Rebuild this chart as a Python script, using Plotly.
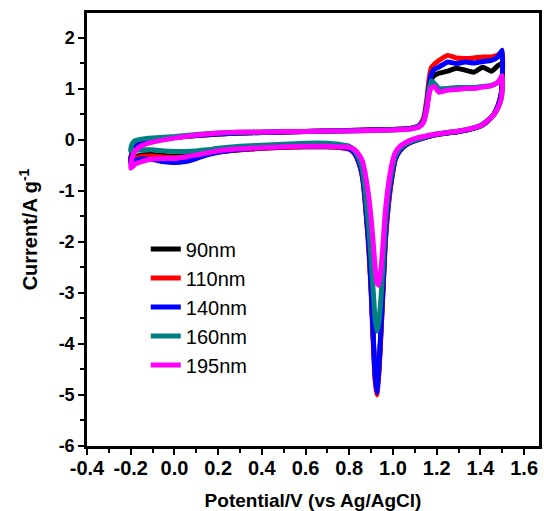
import plotly.graph_objects as go

# Shared potential sweep (V vs Ag/AgCl): anodic scan then cathodic scan
potential = [-0.200, -0.195, -0.180, -0.150, -0.100, 0.000, 0.100, 0.200, 0.300, 0.400,
             0.500, 0.600, 0.700, 0.800, 0.900, 1.000, 1.080, 1.120, 1.140, 1.155,
             1.165, 1.175, 1.190, 1.210, 1.250, 1.290, 1.330, 1.370, 1.410, 1.450,
             1.480, 1.500,
             1.500, 1.495, 1.480, 1.460, 1.430, 1.400, 1.350, 1.300, 1.250, 1.200,
             1.160, 1.100, 1.060, 1.030, 1.010, 0.995, 0.980, 0.965, 0.955, 0.945,
             0.935, 0.926, 0.918, 0.910, 0.900, 0.890, 0.880, 0.870, 0.860, 0.845,
             0.825, 0.800, 0.750, 0.700, 0.600, 0.500, 0.400, 0.300, 0.200, 0.150,
             0.100, 0.050, 0.000, -0.050, -0.100, -0.150, -0.180, -0.200]

current_90nm = [-0.40, -0.27, -0.13, -0.06, -0.02, 0.04, 0.08, 0.11, 0.13, 0.14,
                0.15, 0.16, 0.17, 0.18, 0.19, 0.20, 0.22, 0.26, 0.36, 0.65,
                0.98, 1.18, 1.26, 1.30, 1.34, 1.40, 1.36, 1.32, 1.42, 1.34,
                1.45, 1.50,
                1.15, 0.88, 0.65, 0.48, 0.35, 0.26, 0.20, 0.16, 0.13, 0.10,
                0.06, -0.02, -0.10, -0.22, -0.38, -0.72, -1.20, -1.95, -2.85, -3.75,
                -4.55, -4.90, -4.60, -3.90, -2.90, -2.10, -1.55, -1.05, -0.70, -0.45,
                -0.27, -0.18, -0.15, -0.14, -0.14, -0.15, -0.17, -0.20, -0.23, -0.26,
                -0.29, -0.31, -0.32, -0.31, -0.29, -0.30, -0.34, -0.40]

current_110nm = [-0.42, -0.28, -0.14, -0.07, -0.02, 0.04, 0.08, 0.11, 0.13, 0.14,
                 0.15, 0.16, 0.17, 0.18, 0.19, 0.20, 0.22, 0.28, 0.42, 0.80,
                 1.18, 1.40, 1.48, 1.55, 1.65, 1.60, 1.59, 1.60, 1.62, 1.62,
                 1.66, 1.72,
                 1.20, 0.90, 0.66, 0.49, 0.36, 0.27, 0.20, 0.16, 0.13, 0.10,
                 0.06, -0.02, -0.10, -0.22, -0.40, -0.75, -1.25, -2.00, -2.90, -3.80,
                 -4.60, -5.00, -4.70, -4.00, -3.00, -2.20, -1.62, -1.10, -0.74, -0.47,
                 -0.28, -0.19, -0.15, -0.14, -0.14, -0.15, -0.17, -0.20, -0.24, -0.27,
                 -0.31, -0.34, -0.35, -0.34, -0.32, -0.33, -0.37, -0.42]

current_140nm = [-0.46, -0.30, -0.15, -0.07, -0.02, 0.04, 0.08, 0.11, 0.13, 0.14,
                 0.15, 0.16, 0.17, 0.18, 0.19, 0.20, 0.22, 0.27, 0.38, 0.70,
                 1.05, 1.28, 1.38, 1.42, 1.52, 1.49, 1.52, 1.50, 1.53, 1.55,
                 1.62, 1.75,
                 1.20, 0.90, 0.66, 0.49, 0.36, 0.27, 0.20, 0.16, 0.13, 0.10,
                 0.06, -0.02, -0.10, -0.22, -0.38, -0.70, -1.15, -1.90, -2.80, -3.70,
                 -4.50, -4.95, -4.60, -3.90, -2.90, -2.10, -1.55, -1.05, -0.70, -0.45,
                 -0.27, -0.18, -0.14, -0.13, -0.13, -0.14, -0.16, -0.19, -0.25, -0.30,
                 -0.37, -0.43, -0.45, -0.43, -0.39, -0.38, -0.41, -0.46]

current_160nm = [-0.22, -0.10, -0.02, 0.01, 0.03, 0.06, 0.10, 0.13, 0.14, 0.15,
                 0.16, 0.16, 0.17, 0.17, 0.18, 0.19, 0.21, 0.26, 0.36, 0.66,
                 0.98, 1.15, 1.10, 1.00, 1.00, 1.02, 1.02, 1.02, 1.04, 1.06,
                 1.12, 1.25,
                 1.00, 0.80, 0.62, 0.48, 0.36, 0.27, 0.21, 0.17, 0.14, 0.11,
                 0.07, -0.01, -0.08, -0.18, -0.32, -0.60, -1.00, -1.65, -2.40, -3.10,
                 -3.60, -3.75, -3.50, -3.00, -2.35, -1.75, -1.30, -0.90, -0.60, -0.38,
                 -0.22, -0.13, -0.09, -0.07, -0.07, -0.09, -0.11, -0.13, -0.17, -0.20,
                 -0.22, -0.23, -0.23, -0.22, -0.20, -0.20, -0.21, -0.22]

current_195nm = [-0.56, -0.38, -0.22, -0.12, -0.05, 0.03, 0.09, 0.13, 0.15, 0.15,
                 0.16, 0.16, 0.17, 0.17, 0.18, 0.19, 0.21, 0.25, 0.34, 0.60,
                 0.88, 1.02, 1.04, 0.93, 0.97, 0.98, 1.00, 1.00, 1.03, 1.06,
                 1.12, 1.25,
                 1.00, 0.80, 0.62, 0.48, 0.36, 0.27, 0.21, 0.17, 0.14, 0.11,
                 0.08, 0.02, -0.05, -0.14, -0.26, -0.48, -0.85, -1.40, -2.00, -2.55,
                 -2.85, -2.80, -2.50, -2.05, -1.55, -1.15, -0.85, -0.60, -0.42, -0.30,
                 -0.20, -0.15, -0.14, -0.13, -0.13, -0.14, -0.16, -0.18, -0.22, -0.26,
                 -0.30, -0.34, -0.37, -0.37, -0.38, -0.43, -0.48, -0.56]

series_names = ["90nm", "110nm", "140nm", "160nm", "195nm"]
series_currents = [current_90nm, current_110nm, current_140nm, current_160nm, current_195nm]
series_colors = ["#000000", "#ff0000", "#0000ff", "#008080", "#ff00ff"]

x_tick_values = [-0.4, -0.2, 0.0, 0.2, 0.4, 0.6, 0.8, 1.0, 1.2, 1.4, 1.6]
x_tick_labels = ["-0.4", "-0.2", "0.0", "0.2", "0.4", "0.6", "0.8", "1.0", "1.2", "1.4", "1.6"]
y_tick_values = [-6, -5, -4, -3, -2, -1, 0, 1, 2]
y_tick_labels = ["-6", "-5", "-4", "-3", "-2", "-1", "0", "1", "2"]

FONT = "Arial, Liberation Sans, sans-serif"

fig = go.Figure()
for name, cur, col in zip(series_names, series_currents, series_colors):
    fig.add_trace(go.Scatter(
        x=potential, y=cur, mode="lines", name=name, legendgroup=name,
        line=dict(color=col, width=5, shape="spline", smoothing=0.5),
    ))

axis_common = dict(
    showline=True, linecolor="black", linewidth=2.5, mirror=True,
    ticks="outside", ticklen=6, tickwidth=2, tickcolor="black",
    showgrid=False, zeroline=False,
)

fig.update_layout(
    width=544, height=511,
    margin=dict(l=87, r=2, t=13, b=65),
    plot_bgcolor="white", paper_bgcolor="white",
    showlegend=True,
    legend=dict(
        x=0.13, y=0.50, xanchor="left", yanchor="top",
        bgcolor="rgba(0,0,0,0)", tracegroupgap=0,
        font=dict(family=FONT, size=20, color="black"),
    ),
    xaxis=dict(
        range=[-0.4, 1.668], tickmode="array",
        tickvals=x_tick_values, ticktext=x_tick_labels,
        tickfont=dict(family=FONT, size=20, color="black", weight="bold"),
        ticklabelstandoff=-4,
        minor=dict(tickmode="linear", tick0=-0.4, dtick=0.1, ticks="outside",
                   ticklen=4, tickwidth=2, tickcolor="black"),
        title=dict(text="Potential/V (vs Ag/AgCl)", standoff=16,
                   font=dict(family=FONT, size=19, color="black", weight="bold")),
        **axis_common,
    ),
    yaxis=dict(
        range=[-6, 2.48], tickmode="array",
        tickvals=y_tick_values, ticktext=y_tick_labels,
        tickfont=dict(family=FONT, size=18, color="black", weight="bold"),
        minor=dict(tickmode="linear", tick0=-6, dtick=0.5, ticks="outside",
                   ticklen=4, tickwidth=2, tickcolor="black"),
        title=dict(text="Current/A g<sup>-1</sup>", standoff=16,
                   font=dict(family=FONT, size=20, color="black", weight="bold")),
        **axis_common,
    ),
)

fig.write_html("out.html")
